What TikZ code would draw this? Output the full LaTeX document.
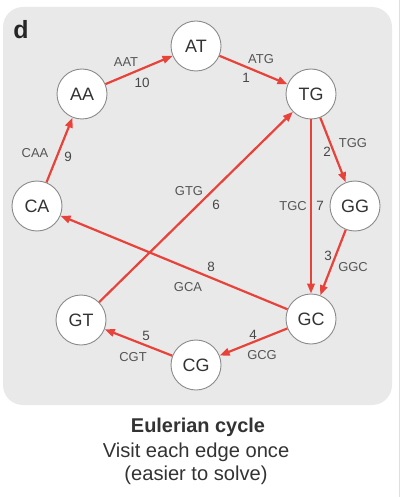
\documentclass[tikz,border=0pt]{standalone}
\usepackage{fontspec}
\setmainfont{Liberation Sans}
\usetikzlibrary{arrows.meta}
\definecolor{edgered}{HTML}{E8433A}
\definecolor{panelgray}{HTML}{E9E9E9}
\definecolor{ringgray}{HTML}{8A8A8A}
\definecolor{txtdark}{HTML}{333333}
\definecolor{lblgray}{HTML}{555555}
\tikzset{
  kmer/.style={circle, draw=ringgray, line width=0.9bp, fill=white, minimum size=50bp, inner sep=0pt, text=txtdark, font=\fontsize{18}{18}\selectfont},
  walk/.style={draw=edgered, line width=2.2bp, -{Triangle[length=10bp,width=7.5bp]}},
  elabel/.style={text=lblgray, font=\fontsize{13}{13}\selectfont, inner sep=0pt},
  enum/.style={text=txtdark!90, font=\fontsize{13.5}{13.5}\selectfont, inner sep=0pt}
}
\begin{document}
\begin{tikzpicture}[x=1bp,y=-1bp]
\useasboundingbox (0,0) rectangle (406,497);
\fill[white] (0,0) rectangle (406,497);
\fill[panelgray, rounded corners=20bp] (3,7) rectangle (392,405);
\draw[gray!25, line width=1bp] (399,0) -- (399,497);
\node[font=\fontsize{25}{25}\bfseries\selectfont, text=black!85, inner sep=0pt] (lab) at (21,30) {d};

\node[kmer] (AT) at (196,46) {AT};
\node[kmer] (AA) at (82,94) {AA};
\node[kmer] (TG) at (311,94) {TG};
\node[kmer] (CA) at (37,206) {CA};
\node[kmer] (GG) at (355,206) {GG};
\node[kmer] (GT) at (81,320) {GT};
\node[kmer] (GC) at (311,319) {GC};
\node[kmer] (CG) at (196,365) {CG};

\draw[walk] (AT) -- (TG);
\draw[walk] (TG) -- (GG);
\draw[walk] (GG) -- (GC);
\draw[walk] (GC) -- (CG);
\draw[walk] (CG) -- (GT);
\draw[walk] (GT) -- (TG);
\draw[walk] (TG.south) -- (GC.north);
\draw[walk] (GC) -- (CA);
\draw[walk] (CA) -- (AA);
\draw[walk] (AA) -- (AT);

\node[elabel] (l1) at (261,59) {ATG};
\node[enum] (n1) at (246,78) {1};
\node[elabel] (l10) at (126,62) {AAT};
\node[enum] (n10) at (142,83) {10};
\node[elabel] (l2) at (353,143) {TGG};
\node[enum] (n2) at (327,152) {2};
\node[elabel] (l9) at (35,153) {CAA};
\node[enum] (n9) at (68,157) {9};
\node[elabel] (l6) at (189,191) {GTG};
\node[enum] (n6) at (216,205) {6};
\node[elabel] (l7) at (293,206) {TGC};
\node[enum] (n7) at (320,206) {7};
\node[enum] (n3) at (328,256) {3};
\node[elabel] (l3) at (353,267) {GGC};
\node[enum] (n8) at (211,267) {8};
\node[elabel] (l8) at (188,287) {GCA};
\node[enum] (n4) at (253,335) {4};
\node[elabel] (l4) at (262,355) {GCG};
\node[enum] (n5) at (146,336) {5};
\node[elabel] (l5) at (133,357) {CGT};

\node[font=\fontsize{20}{20}\bfseries\selectfont, text=txtdark, inner sep=0pt] (t1) at (198,427) {Eulerian cycle};
\node[font=\fontsize{20.2}{20.2}\selectfont, text=txtdark, inner sep=0pt] (t2) at (196,452) {Visit each edge once};
\node[font=\fontsize{20.2}{20.2}\selectfont, text=txtdark, inner sep=0pt] (t3) at (196,475) {(easier to solve)};
\end{tikzpicture}
\end{document}
